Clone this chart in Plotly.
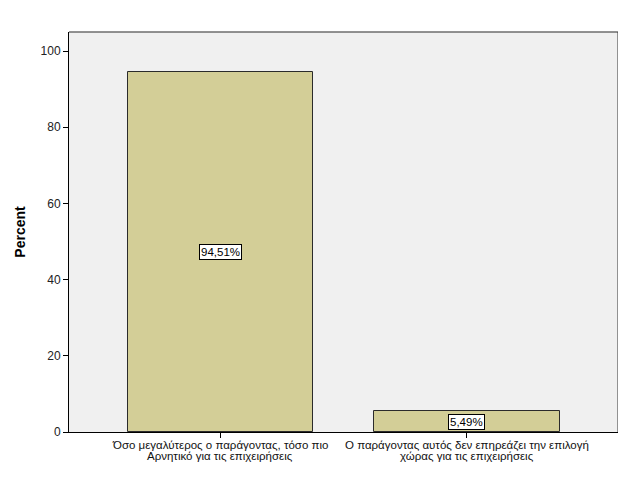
import plotly.graph_objects as go

cat_line1 = ["Όσο μεγαλύτερος ο παράγοντας, τόσο πιο",
             "Ο παράγοντας αυτός δεν επηρεάζει την επιλογή"]
cat_line2 = ["Αρνητικό για τις επιχειρήσεις",
             "χώρας για τις επιχειρήσεις"]
percents = [94.51, 5.49]
labels = ["94,51%", "5,49%"]
y_ticks = [0, 20, 40, 60, 80, 100]

x_idx = list(range(len(percents)))
FONT = "Liberation Sans, Arial"

fig = go.Figure()
fig.add_trace(go.Bar(
    x=x_idx, y=percents, width=0.75,
    marker=dict(color="#d3ce97", line=dict(color="#2b2b2b", width=1)),
    hoverinfo="skip",
))

for xi, v, lab in zip(x_idx, percents, labels):
    fig.add_annotation(x=xi, y=v / 2, text=lab, showarrow=False,
                       font=dict(family=FONT, size=11.5, color="#000"),
                       bgcolor="white", bordercolor="#000", borderwidth=1, borderpad=1)

for xi, l1, l2 in zip(x_idx, cat_line1, cat_line2):
    fig.add_annotation(x=xi, y=0, xref="x", yref="paper", text=l1, showarrow=False,
                       yanchor="middle", yshift=-13,
                       font=dict(family=FONT, size=11.5, color="#111"))
    fig.add_annotation(x=xi, y=0, xref="x", yref="paper", text=l2, showarrow=False,
                       yanchor="middle", yshift=-24,
                       font=dict(family=FONT, size=11.5, color="#111"))

fig.update_layout(
    width=626, height=501,
    margin=dict(l=56, r=16, t=24, b=77),
    paper_bgcolor="white", plot_bgcolor="#f0f0f0",
    showlegend=False,
    font=dict(family=FONT, size=11, color="#000"),
    bargap=0,
)
fig.update_xaxes(
    range=[-0.612, 1.612], tickvals=x_idx, ticktext=["", ""],
    ticks="outside", ticklen=5, tickcolor="#000",
    showline=True, linecolor="#000", linewidth=1, mirror=False,
    showgrid=False, zeroline=False,
)
fig.update_yaxes(
    range=[0, 105], tickvals=y_ticks,
    ticks="outside", ticklen=5, tickcolor="#000",
    showline=True, linecolor="#000", linewidth=1,
    showgrid=False, zeroline=False, tickfont=dict(size=12, color="#222"),
    title=dict(text="<b>Percent</b>", font=dict(family=FONT, size=14, color="#000"), standoff=11),
)
# frame top/right
fig.add_shape(type="line", xref="paper", yref="paper", x0=0, x1=1, y0=1, y1=1,
              line=dict(color="#6e6e6e", width=1.5))
fig.add_shape(type="line", xref="paper", yref="paper", x0=1, x1=1, y0=0, y1=1,
              line=dict(color="#333", width=1))

fig.write_html("out.html")
